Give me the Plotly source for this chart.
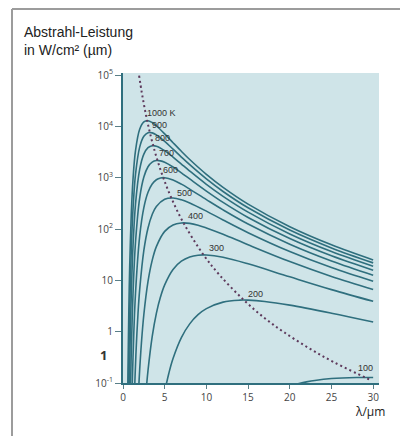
import plotly.graph_objects as go

# ---- data (wavelength in µm, emittance) ----
temps = [1000, 900, 800, 700, 600, 500, 400, 300, 200, 100]

wl_1000 = [0.55, 0.6, 0.7, 0.8, 1.0, 1.2, 1.5, 2.0, 2.5, 3.0, 3.5, 4, 5, 6, 7, 8, 10, 12, 15, 20, 25, 30]
m_1000 = [0.032, 0.185, 2.64, 17.7, 211, 934, 3364, 8786, 12173, 12833, 11873, 10296, 7138, 4812, 3269, 2266, 1164, 649, 306, 111, 49.3, 25.0]

wl_900 = [0.65, 0.7, 0.8, 1.0, 1.2, 1.5, 2.0, 2.5, 3.0, 3.5, 4, 5, 6, 7, 8, 10, 12, 15, 20, 25, 30]
m_900 = [0.067, 0.269, 2.40, 42.7, 246, 1158, 3949, 6409, 7505, 7472, 6839, 5102, 3602, 2525, 1791, 948, 539, 259, 95.5, 42.8, 21.9]

wl_800 = [0.75, 0.8, 0.9, 1.0, 1.2, 1.5, 2.0, 2.5, 3.0, 3.5, 4, 5, 6, 7, 8, 10, 12, 15, 20, 25, 30]
m_800 = [0.061, 0.197, 1.33, 5.79, 46.6, 306, 1454, 2880, 3846, 4204, 4121, 3373, 2528, 1846, 1348, 742, 433, 213, 80.2, 36.4, 18.8]

wl_700 = [0.9, 0.95, 1.0, 1.2, 1.5, 2.0, 2.5, 3.0, 3.5, 4, 4.5, 5, 6, 7, 8, 10, 12, 15, 20, 25, 30]
m_700 = [0.077, 0.194, 0.443, 5.48, 55.1, 402, 1030, 1632, 2012, 2156, 2127, 1995, 1618, 1247, 947, 550, 331, 168, 65.1, 30.0, 15.7]

wl_600 = [1.1, 1.15, 1.2, 1.3, 1.5, 2.0, 2.5, 3.0, 3.5, 4, 4.5, 5, 6, 7, 8, 10, 12, 15, 20, 25, 30]
m_600 = [0.079, 0.164, 0.315, 0.983, 5.62, 72.6, 262, 520, 755, 913, 988, 998, 901, 749, 600, 374, 236, 125, 50.5, 23.8, 12.6]

wl_500 = [1.4, 1.45, 1.6, 1.8, 2.0, 2.5, 3.0, 3.5, 4, 5, 6, 7, 8, 10, 12, 15, 20, 25, 30]
m_500 = [0.082, 0.140, 0.552, 2.26, 6.59, 38.4, 105, 192, 275, 380, 401, 371, 322, 223, 150, 84.8, 36.4, 17.7, 9.57]

wl_400 = [1.9, 2.0, 2.2, 2.5, 3.0, 3.5, 4, 5, 6, 7, 8, 9, 10, 12, 15, 20, 25, 30]
m_400 = [0.0905, 0.181, 0.576, 2.16, 9.56, 24.5, 45.4, 90.0, 120, 131, 129, 119, 105, 79.0, 49.3, 23.2, 11.9, 6.65]

wl_300 = [2.8, 3.0, 3.5, 4, 4.5, 5, 6, 7, 8, 9, 10, 12, 15, 20, 25, 30]
m_300 = [0.079, 0.176, 0.797, 2.27, 4.77, 8.17, 16.3, 23.6, 28.5, 30.9, 31.2, 28.2, 21.0, 11.7, 6.6, 3.9]

wl_200 = [5, 5.5, 6, 7, 8, 9, 10, 12, 14, 15, 17, 20, 25, 30]
m_200 = [0.0675, 0.155, 0.299, 0.766, 1.42, 2.14, 2.81, 3.76, 4.11, 4.11, 3.88, 3.29, 2.29, 1.54]

wl_100 = [21, 22, 23, 25, 28, 30]
m_100 = [0.097, 0.105, 0.112, 0.122, 0.128, 0.128]

# maxima locus (dotted)
wl_max = [1.93, 2.23, 2.42, 2.64, 2.90, 3.22, 3.62, 4.14, 4.83, 5.80, 7.25, 9.66, 11.6, 14.5, 17.0, 19.3, 22.3, 25.2, 29.0, 29.6]
m_max = [97700, 47800, 32000, 20700, 12870, 7600, 4216, 2163, 1000, 402, 132, 31.3, 12.6, 4.12, 1.83, 0.977, 0.478, 0.259, 0.129, 0.116]

# curve labels: text, x (µm), log10(y)
label_text = ["1000 K", "900", "800", "700", "600", "500", "400", "300", "200", "100"]
label_x = [2.6, 3.2, 3.6, 4.05, 4.6, 6.2, 7.6, 10.1, 14.8, 28.0]
label_logy = [4.27, 4.03, 3.78, 3.48, 3.15, 2.70, 2.25, 1.63, 0.73, -0.70]

x_ticks = [0, 5, 10, 15, 20, 25, 30]
y_ticks = [0.1, 1, 10, 100, 1000, 10000, 100000]
y_ticktext = ["10<sup>-1</sup>", "1", "10", "10<sup>2</sup>", "10<sup>3</sup>", "10<sup>4</sup>", "10<sup>5</sup>"]

curves = [(wl_1000, m_1000), (wl_900, m_900), (wl_800, m_800), (wl_700, m_700),
          (wl_600, m_600), (wl_500, m_500), (wl_400, m_400), (wl_300, m_300),
          (wl_200, m_200), (wl_100, m_100)]

LINE = "#2f6f7e"
fig = go.Figure()
for t, (xs, ys) in zip(temps, curves):
    fig.add_trace(go.Scatter(x=xs, y=ys, mode="lines", name=f"{t} K",
                             line=dict(color=LINE, width=1.6, shape="spline", smoothing=1.0),
                             hoverinfo="skip"))

fig.add_trace(go.Scatter(x=wl_max, y=m_max, mode="lines", name="max",
                         line=dict(color="#5e3a5c", width=2, dash="2px,3px", shape="spline"),
                         hoverinfo="skip"))

for txt, lx, ly in zip(label_text, label_x, label_logy):
    fig.add_annotation(x=lx, y=ly, xref="x", yref="y", text=txt, showarrow=False,
                       xanchor="left", yanchor="middle",
                       font=dict(family="Liberation Sans", size=9, color="#333333"))

# page body has an 8px margin: figure coordinates = reference pixels - 8
OFF = 8
W, H = 400, 428
L, R, T, B = 115, 29, 65, 53
pw, ph = W - L - R, H - T - B

def px(xp):
    return (xp - OFF - L) / pw

def py(yp):
    return (H - B - (yp - OFF)) / ph

fig.add_annotation(x=px(22), y=py(32), xref="paper", yref="paper", text="Abstrahl-Leistung",
                   showarrow=False, xanchor="left", yanchor="middle",
                   font=dict(family="Liberation Sans", size=14, color="#222222"))
fig.add_annotation(x=px(22), y=py(50), xref="paper", yref="paper", text="in W/cm² (µm)",
                   showarrow=False, xanchor="left", yanchor="middle",
                   font=dict(family="Liberation Sans", size=14, color="#222222"))
fig.add_annotation(x=px(387), y=py(411), xref="paper", yref="paper", text="λ/µm",
                   showarrow=False, xanchor="right", yanchor="middle",
                   font=dict(family="Open Sans", size=12, color="#222222"))
fig.add_annotation(x=px(103), y=py(355), xref="paper", yref="paper", text="<b>1</b>",
                   showarrow=False, xanchor="center", yanchor="middle",
                   font=dict(family="Open Sans", size=13, color="#333333"))

# outer frame (top and left edges)
fig.add_shape(type="line", xref="paper", yref="paper", x0=px(12), y0=py(9), x1=px(412), y1=py(9),
              line=dict(color="#9c9c9c", width=2))
fig.add_shape(type="line", xref="paper", yref="paper", x0=px(12), y0=py(9), x1=px(12), y1=py(440),
              line=dict(color="#9c9c9c", width=2))

fig.update_layout(
    width=W, height=H, autosize=False,
    margin=dict(l=L, r=R, t=T, b=B, pad=0),
    paper_bgcolor="white", plot_bgcolor="#cfe4e8",
    showlegend=False,
    xaxis=dict(range=[0, 30.7], tickvals=x_ticks, ticks="outside", ticklen=4, tickwidth=1,
               tickcolor="#5a7f88", showline=True, linecolor="#2f6f7e", linewidth=2,
               showgrid=False, zeroline=False,
               tickfont=dict(family="Open Sans", size=10, color="#444444")),
    yaxis=dict(type="log", range=[-1, 5.04], tickvals=y_ticks, ticktext=y_ticktext,
               ticks="outside", ticklen=6, tickwidth=1, tickcolor="#5a7f88",
               showline=True, linecolor="#2f6f7e", linewidth=2,
               showgrid=False, zeroline=False,
               tickfont=dict(family="Open Sans", size=10, color="#444444")),
)

fig.write_html("out.html")
